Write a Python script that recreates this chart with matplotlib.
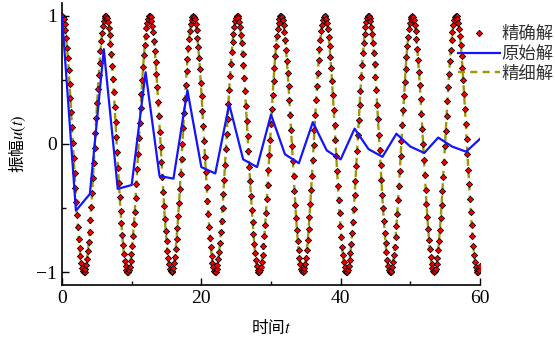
import numpy as np
import matplotlib
matplotlib.use("Agg")
import matplotlib.pyplot as plt
from matplotlib.ticker import MultipleLocator

# ---- data ----
# exact solution u(t) = cos(t), sampled every 0.12
t_exact = np.linspace(0, 60, 501)
u_exact = np.cos(t_exact)
# fine (refined) solution follows the exact one closely
t_fine = t_exact
u_fine = u_exact
# original (coarse) solution, step 2
t_coarse = [0, 2, 4, 6, 8, 10, 12, 14, 16, 18, 20, 22, 24, 26, 28, 30,
            32, 34, 36, 38, 40, 42, 44, 46, 48, 50, 52, 54, 56, 58, 60]
u_coarse = [1.00, -0.52, -0.39, 0.74, -0.35, -0.32, 0.56, -0.25, -0.27, 0.42,
            -0.18, -0.23, 0.31, -0.12, -0.18, 0.23, -0.08, -0.15, 0.17, -0.05,
            -0.12, 0.12, -0.04, -0.10, 0.08, -0.02, -0.07, 0.05, -0.02, -0.06, 0.04]
labels = ["精确解", "原始解", "精细解"]
x_ticks = [0, 20, 40, 60]
y_ticks = [-1, 0, 1]

plt.rcParams['font.family'] = ['Liberation Serif', 'Noto Sans CJK SC']
plt.rcParams['mathtext.fontset'] = 'stix'
plt.rcParams['axes.unicode_minus'] = True

fig = plt.figure(figsize=(5.55, 3.46), dpi=100)
ax = fig.add_axes([62/555, 1-285/346, (480-62)/555, (285-3)/346])

ax.plot(t_exact, u_exact, linestyle='none', marker='D', markersize=3.2,
        markerfacecolor='#f00000', markeredgecolor='black', markeredgewidth=0.55,
        label=labels[0], zorder=3)
ax.plot(t_coarse, u_coarse, color='#1414ff', linewidth=1.6, label=labels[1], zorder=4)
ax.plot(t_fine, u_fine, color='#9c9a00', linewidth=1.7, linestyle=(0, (3.0, 2.2)),
        label=labels[2], zorder=2)

ax.set_xlim(0, 60)
ax.set_ylim(-1.1, 1.1)
ax.set_xticks(x_ticks)
ax.set_yticks(y_ticks)
ax.xaxis.set_minor_locator(MultipleLocator(10))
ax.yaxis.set_minor_locator(MultipleLocator(0.5))
ax.tick_params(which='both', direction='in', labelsize=14, width=1.0)
ax.tick_params(which='major', length=5)
ax.tick_params(which='minor', length=3)
for s in ['top', 'right']:
    ax.spines[s].set_visible(False)
for s in ['left', 'bottom']:
    ax.spines[s].set_linewidth(1.2)

ax.set_xlabel("时间$t$", fontsize=12, family=['Noto Sans CJK SC', 'DejaVu Sans'], labelpad=8)
ax.set_ylabel("振幅$u(t)$", fontsize=12, family=['Noto Sans CJK SC', 'DejaVu Sans'], labelpad=6)

leg = fig.legend(loc='upper left', bbox_to_anchor=(458/555, 1-25/346),
                 frameon=False, handlelength=2.4, handletextpad=0.1,
                 labelspacing=0.1, borderpad=0, borderaxespad=0,
                 prop={'family': ['Noto Sans CJK SC'], 'size': 12.5})
for t in leg.get_texts():
    t.set_color('#333333')

fig.savefig("out.png", dpi=100)
